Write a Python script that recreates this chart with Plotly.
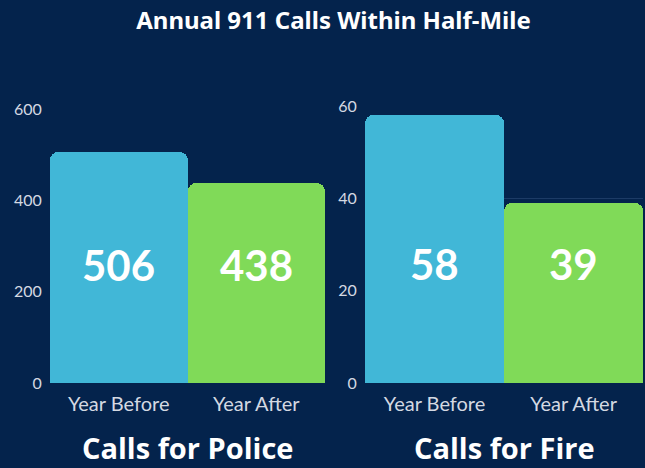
import plotly.graph_objects as go
from plotly.subplots import make_subplots

categories = ["Year Before", "Year After"]
police_values = [506, 438]
fire_values = [58, 39]
police_ticks = [0, 200, 400, 600]
fire_ticks = [0, 20, 40, 60]
panel_titles = ["Calls for Police", "Calls for Fire"]
title = "Annual 911 Calls Within Half-Mile"

BG = "#04234c"
BAR_COLORS = ["#41b7d7", "#80da58"]
GRID = "#1c3b66"
TICK = "#d4d9e2"

fig = make_subplots(rows=1, cols=2)

for col, vals in ((1, police_values), (2, fire_values)):
    fig.add_trace(
        go.Bar(
            x=categories, y=vals,
            marker=dict(color=BAR_COLORS, line=dict(width=0), cornerradius=8),
            hoverinfo="skip", showlegend=False,
        ),
        row=1, col=col,
    )

fig.update_layout(
    width=645, height=468,
    paper_bgcolor=BG, plot_bgcolor=BG,
    margin=dict(l=0, r=0, t=0, b=0, autoexpand=False),
    bargap=0,
    title=dict(text=f"<b>{title}</b>", x=0.517, xanchor="center", y=0.957, yanchor="middle",
               font=dict(family="Noto Sans", size=24, color="white")),
    xaxis=dict(domain=[0.0775, 0.504], range=[-0.5, 1.5]),
    xaxis2=dict(domain=[0.566, 0.997], range=[-0.5, 1.5]),
    yaxis=dict(domain=[0.1816, 0.767], range=[0, 600], tickvals=police_ticks),
    yaxis2=dict(domain=[0.1816, 0.7735], range=[0, 60], tickvals=fire_ticks),
)
fig.update_xaxes(showgrid=False, zeroline=False, showline=False, ticks="outside",
                 ticklen=3, tickcolor=BG, automargin=False,
                 tickfont=dict(family="Lato", size=20, color=TICK))
fig.update_yaxes(showgrid=True, gridcolor=GRID, gridwidth=1, zeroline=False,
                 showline=False, ticks="outside", ticklen=4, tickcolor=BG, automargin=False,
                 tickfont=dict(family="Lato", size=16, color=TICK))

# value labels inside bars
for xref, yref, vals, ymax in (("x", "y", police_values, police_ticks[-1]),
                               ("x2", "y2", fire_values, fire_ticks[-1])):
    for cat, v in zip(categories, vals):
        fig.add_annotation(x=cat, y=ymax * 0.43, xref=xref, yref=yref,
                           text=f"<b>{v}</b>", showarrow=False,
                           font=dict(family="Lato", size=42, color="white"))

# panel titles below
for xref, t in (("x domain", panel_titles[0]), ("x2 domain", panel_titles[1])):
    fig.add_annotation(x=0.5, y=0.0, xref=xref, yref="paper", yanchor="bottom",
                       borderpad=0, text=f"<b>{t}</b>", showarrow=False,
                       font=dict(family="Open Sans", size=29, color="white"))

fig.write_html("out.html")
